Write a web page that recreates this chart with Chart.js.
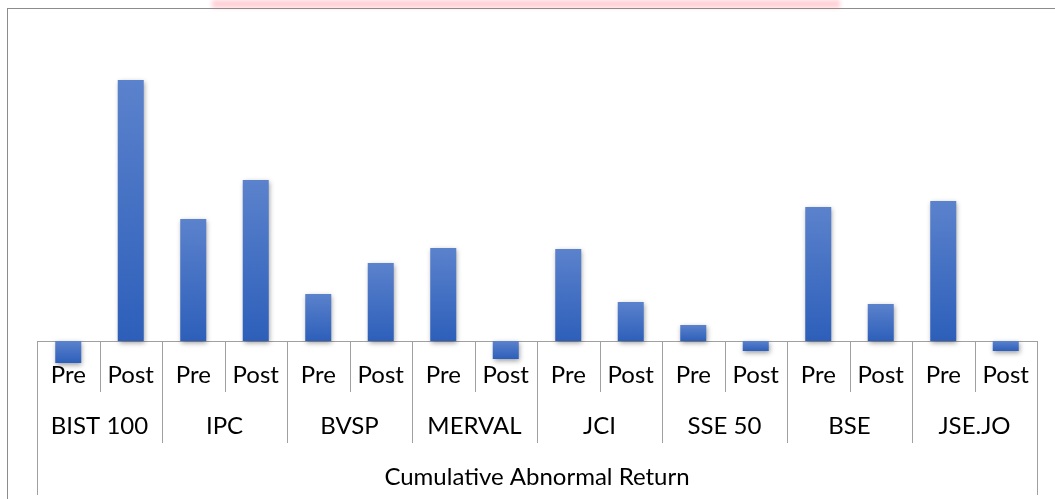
<!DOCTYPE html>
<html lang="en">
<head>
<meta charset="UTF-8">
<title>Cumulative Abnormal Return</title>
<script src="https://cdn.jsdelivr.net/npm/chart.js@4/dist/chart.umd.min.js"></script>
<style>
  * { margin: 0; padding: 0; box-sizing: border-box; }
  body { width: 1055px; height: 499px; background: #fff; overflow: hidden; position: relative; }
  .frame { position: absolute; left: 7px; top: 8px; width: 1100px; height: 600px;
           border-left: 1px solid #8c8c8c; border-top: 1px solid #8c8c8c; }
  .glow  { position: absolute; left: 212px; top: 0; width: 628px; height: 8px;
           background: #ffd0d6; filter: blur(2px); }
  canvas { position: absolute; left: 0; top: 0; }
</style>
</head>
<body>
<div class="glow"></div>
<div class="frame"></div>
<canvas id="car" width="1055" height="499"></canvas>
<script>
// ── Data ─────────────────────────────────────────────────────────────────────
const markets = ['BIST 100', 'IPC', 'BVSP', 'MERVAL', 'JCI', 'SSE 50', 'BSE', 'JSE.JO'];
const periods = ['Pre', 'Post'];
const preValues  = [-2.2, 12.2, 4.7,  9.3, 9.2,  1.6, 13.4, 14.0];
const postValues = [26.1, 16.1, 7.8, -1.8, 3.9, -1.0,  3.7, -1.0];
const axisTitle = 'Cumulative Abnormal Return';

const labels = [];
const values = [];
markets.forEach((m, i) => {
  labels.push(periods[0], periods[1]);
  values.push(preValues[i], postValues[i]);
});

const FONT = '24px Lato, "Noto Sans", sans-serif';
const GRID = '#a0a0a0';

// ── Per-bar gradient ─────────────────────────────────────────────────────────
function barFill(c) {
  const chart = c.chart;
  if (!chart.chartArea) return '#3a6cc4';
  const y = chart.scales.y;
  const y0 = y.getPixelForValue(0);
  const y1 = y.getPixelForValue(c.raw);
  const g = chart.ctx.createLinearGradient(0, Math.min(y0, y1), 0, Math.max(y0, y1) + 0.01);
  g.addColorStop(0, '#5b82cc');
  g.addColorStop(1, '#2d5fba');
  return g;
}

// ── Multi-level category axis, drawn from the scales ─────────────────────────
const categoryAxis = {
  id: 'categoryAxis',
  beforeDatasetsDraw(chart) {
    const { ctx, scales: { x, y } } = chart;
    const zero = y.getPixelForValue(0);
    const half = (x.getPixelForValue(1) - x.getPixelForValue(0)) / 2;
    ctx.save();
    ctx.strokeStyle = GRID;
    ctx.lineWidth = 1;
    ctx.beginPath();
    ctx.moveTo(x.left, zero + 0.5);
    ctx.lineTo(x.right, zero + 0.5);
    for (let i = 0; i <= labels.length; i++) {
      const px = Math.round(x.getPixelForValue(i) - half) + 0.5;
      let depth = 51;                    // Pre / Post divider
      if (i % 2 === 0) depth = 102;      // market divider
      if (i === 0 || i === labels.length) depth = 154;
      ctx.moveTo(px, zero);
      ctx.lineTo(px, zero + depth);
    }
    ctx.stroke();
    ctx.restore();
  },
  beforeDatasetDraw(chart) {
    const ctx = chart.ctx;
    ctx.save();
    ctx.shadowColor = 'rgba(0,0,0,0.38)';
    ctx.shadowBlur = 5;
    ctx.shadowOffsetX = 1;
    ctx.shadowOffsetY = 2;
  },
  afterDatasetDraw(chart) {
    chart.ctx.restore();
  },
  afterDraw(chart) {
    const { ctx, scales: { x, y } } = chart;
    const zero = y.getPixelForValue(0);
    ctx.save();
    ctx.fillStyle = '#000';
    ctx.font = FONT;
    ctx.textAlign = 'center';
    ctx.textBaseline = 'middle';
    labels.forEach((l, i) => ctx.fillText(l, x.getPixelForValue(i), zero + 34));
    markets.forEach((m, i) => {
      const cx = (x.getPixelForValue(2 * i) + x.getPixelForValue(2 * i + 1)) / 2;
      ctx.fillText(m, cx, zero + 85);
    });
    ctx.fillText(axisTitle, (x.left + x.right) / 2, zero + 136);
    ctx.restore();
  }
};

new Chart(document.getElementById('car'), {
  type: 'bar',
  data: {
    labels,
    datasets: [{
      data: values,
      backgroundColor: barFill,
      borderWidth: 0,
      barPercentage: 0.416,
      categoryPercentage: 1
    }]
  },
  options: {
    responsive: false,
    animation: false,
    devicePixelRatio: 1,
    layout: { padding: { left: 37, right: 18, top: 10, bottom: 4 } },
    plugins: { legend: { display: false }, tooltip: { enabled: false } },
    scales: {
      x: { display: false },
      y: { display: false, min: -15.4, max: 33.1 }
    }
  },
  plugins: [categoryAxis]
});
</script>
</body>
</html>
